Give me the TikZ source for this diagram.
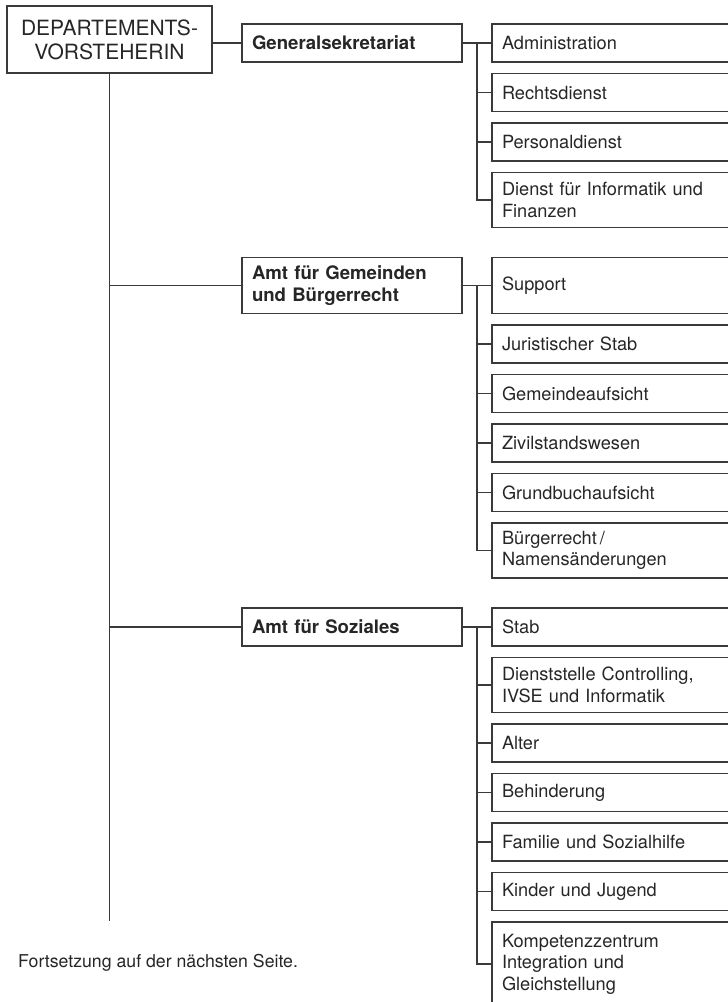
\documentclass[tikz,border=0pt]{standalone}
\usepackage{fontspec}
\setmainfont{TeX Gyre Heros}
\usetikzlibrary{positioning}
\definecolor{linegray}{HTML}{3A3A3A}
\definecolor{textgray}{HTML}{262626}
\tikzstyle{chief} = [draw=linegray, line width=1.2pt, outer sep=0pt, text=textgray, align=center, minimum width=205pt, minimum height=67pt, inner sep=0pt, font=\fontsize{21}{24}\selectfont]
\tikzstyle{amt} = [draw=linegray, line width=1.2pt, outer sep=0pt, text=textgray, text width=200pt, inner xsep=10pt, inner ysep=0pt, minimum height=38pt, align=left, font=\fontsize{18.6}{21.5}\selectfont\bfseries]
\tikzstyle{unit} = [draw=linegray, line width=1.2pt, outer sep=0pt, text=textgray, text width=236pt, inner xsep=10pt, inner ysep=0pt, minimum height=38pt, align=left, font=\fontsize{18.2}{21.5}\selectfont]
\tikzstyle{twoline} = [minimum height=55pt]
\tikzstyle{threeline} = [minimum height=84pt]
\tikzstyle{note} = [inner sep=0pt, text=textgray, font=\fontsize{17.7}{21}\selectfont]
\tikzstyle{link} = [draw=linegray, line width=1.2pt]
\tikzstyle{elbow} = [to path={|- (\tikztotarget)}]

\begin{document}
\begin{tikzpicture}[x=1pt, y=1pt, node distance=11.5pt]

\useasboundingbox (0,0) rectangle (728,-1002);
\clip (0,0) rectangle (728,-1002);

\node[chief] (vorsteherin) at (109.5,-39.5) {DEPARTEMENTS-\\VORSTEHERIN};
\coordinate (trunkend) at (109.5,-921);

% Generalsekretariat
\node[amt, anchor=west] (gs) at (242,-43) {Generalsekretariat};
\node[unit, right=30pt of gs] (admin) {Administration};
\node[unit, below=of admin] (recht) {Rechtsdienst};
\node[unit, below=of recht] (personal) {Personaldienst};
\node[unit, twoline, below=of personal] (informatik) {Dienst für Informatik und\\Finanzen};
\coordinate[right=15pt of gs.east] (gsbus);

% Gemeinden
\node[unit, minimum height=56pt, below=30pt of informatik] (support) {Support};
\node[amt, minimum height=56pt, left=30pt of support] (gem) {Amt für Gemeinden\\und Bürgerrecht};
\node[unit, below=of support] (jur) {Juristischer Stab};
\node[unit, below=of jur] (aufsicht) {Gemeindeaufsicht};
\node[unit, below=of aufsicht] (zivil) {Zivilstandswesen};
\node[unit, below=of zivil] (grundbuch) {Grundbuchaufsicht};
\node[unit, twoline, below=of grundbuch] (buerger) {Bürgerrecht\,/\\Namensänderungen};
\coordinate[right=15pt of gem.east] (gembus);

% Soziales
\node[unit, below=30pt of buerger] (stab) {Stab};
\node[amt, left=30pt of stab] (soz) {Amt für Soziales};
\node[unit, twoline, below=of stab] (controlling) {Dienststelle Controlling,\\IVSE und Informatik};
\node[unit, below=of controlling] (alter) {Alter};
\node[unit, below=of alter] (behinderung) {Behinderung};
\node[unit, below=of behinderung] (familie) {Familie und Sozialhilfe};
\node[unit, below=of familie] (kinder) {Kinder und Jugend};
\node[unit, threeline, below=of kinder] (kompetenz) {Kompetenzzentrum\\Integration und\\Gleichstellung};
\coordinate[right=15pt of soz.east] (sozbus);

\node[note, anchor=west] (fortsetzung) at (18,-963) {Fortsetzung auf der nächsten Seite.};

\path[link]
(vorsteherin.south) edge (trunkend)
(gs.west -| vorsteherin.east) edge (gs.west)
(gem.west -| vorsteherin.south) edge (gem.west)
(soz.west -| vorsteherin.south) edge (soz.west)
(gs.east) edge (admin.west)
(gsbus) edge [elbow] (recht.west)
(gsbus) edge [elbow] (personal.west)
(gsbus) edge [elbow] (informatik.west)
(gem.east) edge (support.west)
(gembus) edge [elbow] (jur.west)
(gembus) edge [elbow] (aufsicht.west)
(gembus) edge [elbow] (zivil.west)
(gembus) edge [elbow] (grundbuch.west)
(gembus) edge [elbow] (buerger.west)
(soz.east) edge (stab.west)
(sozbus) edge [elbow] (controlling.west)
(sozbus) edge [elbow] (alter.west)
(sozbus) edge [elbow] (behinderung.west)
(sozbus) edge [elbow] (familie.west)
(sozbus) edge [elbow] (kinder.west)
(sozbus) edge [elbow] (kompetenz.west);

\end{tikzpicture}
\end{document}
